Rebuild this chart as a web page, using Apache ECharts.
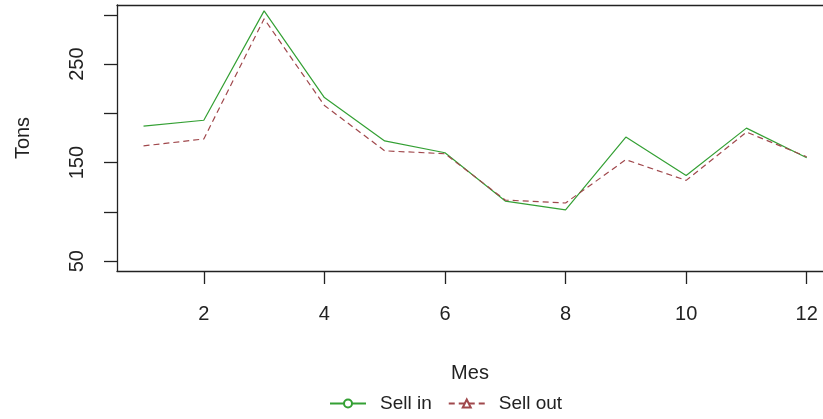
<!DOCTYPE html>
<html>
<head>
<meta charset="utf-8">
<script src="https://cdn.jsdelivr.net/npm/echarts@6/dist/echarts.min.js"></script>
<style>
  html, body { margin: 0; padding: 0; background: #fff; }
  #chart { width: 823px; height: 419px; }
</style>
</head>
<body>
<div id="chart"></div>
<script>
// Monthly tonnage: sell in vs sell out
const months = [1, 2, 3, 4, 5, 6, 7, 8, 9, 10, 11, 12];
const sellIn = [187, 193, 304, 216, 172, 160, 111, 102, 176, 137, 185, 155];
const sellOut = [167, 174, 296, 208, 162, 159, 112, 109, 153, 132, 181, 156];
const xTicks = [2, 4, 6, 8, 10, 12];
const yTicks = [50, 100, 150, 200, 250, 300];
const yLabels = [50, 150, 250];

const FONT = 'Liberation Sans, Arial, sans-serif';
const INK = '#222';
const GREEN = '#34a034';
const RED = '#a0484c';
const FRAME = { color: '#222', width: 1.3 };

const chart = echarts.init(document.getElementById('chart'), null, { renderer: 'canvas' });

const pairs = (ys) => months.map((m, i) => [m, ys[i]]);

// The plotting frame runs on past the right edge of the canvas, so only
// its left, bottom and top sides are drawn (as axis lines).
const X_MIN = 0.56, X_MAX = 12.27;

chart.setOption({
  animation: false,
  backgroundColor: '#fff',
  grid: { left: 117, top: 5, right: 0, bottom: 148, show: false },
  xAxis: [
    {
      type: 'value', min: X_MIN, max: X_MAX, position: 'bottom',
      name: 'Mes', nameLocation: 'middle', nameGap: 92,
      nameTextStyle: { fontFamily: FONT, fontSize: 20, color: INK },
      axisLine: { show: true, onZero: false, lineStyle: FRAME },
      splitLine: { show: false },
      axisTick: { show: true, inside: false, length: 13, customValues: xTicks, lineStyle: FRAME },
      axisLabel: { customValues: xTicks, margin: 33, fontFamily: FONT, fontSize: 20, color: INK }
    },
    {
      type: 'value', min: X_MIN, max: X_MAX, position: 'top',
      axisLine: { show: true, onZero: false, lineStyle: FRAME },
      splitLine: { show: false },
      axisTick: { show: false },
      axisLabel: { show: false }
    }
  ],
  yAxis: {
    type: 'value', min: 40, max: 310,
    name: 'Tons', nameLocation: 'middle', nameGap: 84, nameRotate: 90,
    nameTextStyle: { fontFamily: FONT, fontSize: 20, color: INK },
    axisLine: { show: true, onZero: false, lineStyle: FRAME },
    splitLine: { show: false },
    axisTick: { show: true, inside: false, length: 13, customValues: yTicks, lineStyle: FRAME },
    axisLabel: { customValues: yLabels, rotate: 90, margin: 30, fontFamily: FONT, fontSize: 20, color: INK }
  },
  legend: {
    bottom: 6, left: 329, padding: 0,
    itemWidth: 36, itemHeight: 10, itemGap: 16,
    textStyle: { fontFamily: FONT, fontSize: 19, color: INK, padding: [0, 0, 0, 9] },
    data: ['Sell in', 'Sell out']
  },
  series: [
    {
      name: 'Sell in', type: 'line', data: pairs(sellIn), xAxisIndex: 0,
      showSymbol: false, symbol: 'emptyCircle', symbolSize: 7,
      lineStyle: { color: GREEN, width: 1.2 },
      itemStyle: { color: GREEN, borderColor: GREEN }
    },
    {
      name: 'Sell out', type: 'line', data: pairs(sellOut), xAxisIndex: 0,
      showSymbol: false, symbol: 'emptyTriangle', symbolSize: 11,
      lineStyle: { color: RED, width: 1.2, type: [6, 4] },
      itemStyle: { color: RED, borderColor: RED }
    }
  ]
});
</script>
</body>
</html>
